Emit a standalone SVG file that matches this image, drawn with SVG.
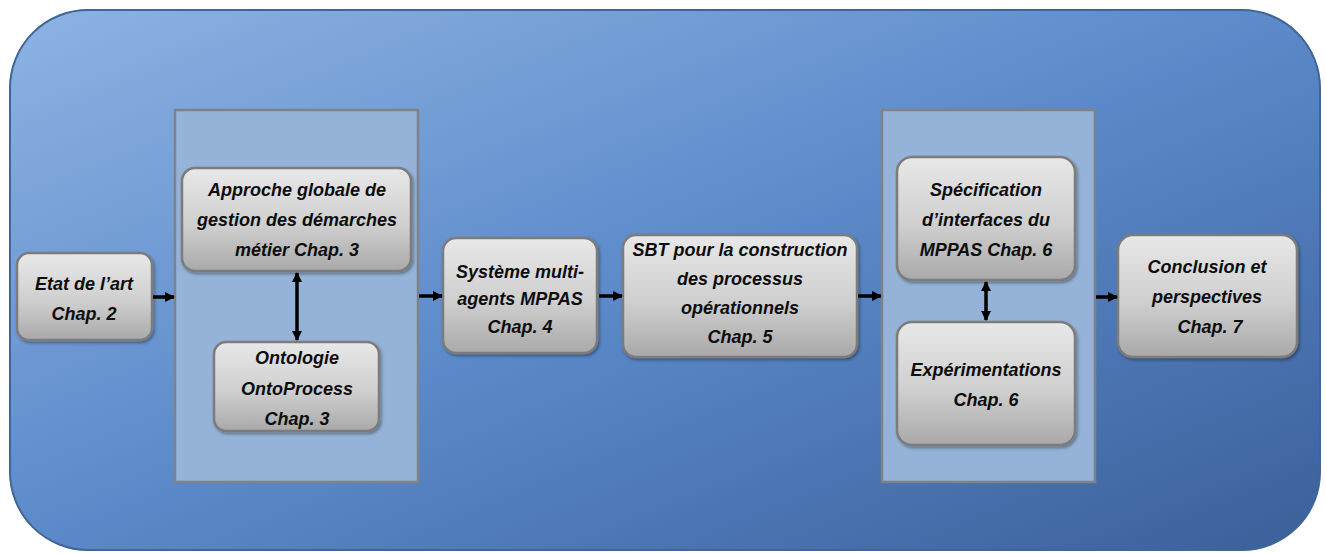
<svg xmlns="http://www.w3.org/2000/svg" width="1326" height="553" viewBox="0 0 1326 553">
<defs>
<linearGradient id="bg" x1="0" y1="0" x2="1" y2="1">
<stop offset="0" stop-color="#8db3e3"/>
<stop offset="0.5" stop-color="#5b89c9"/>
<stop offset="1" stop-color="#3a6099"/>
</linearGradient>
<linearGradient id="box" x1="0" y1="0" x2="0" y2="1">
<stop offset="0" stop-color="#e8e8e8"/>
<stop offset="0.55" stop-color="#cfcfcf"/>
<stop offset="1" stop-color="#a9a9a9"/>
</linearGradient>
<filter id="sh" x="-10%" y="-10%" width="125%" height="130%">
<feDropShadow dx="1.5" dy="2" stdDeviation="1.5" flood-color="#000" flood-opacity="0.35"/>
</filter>
<marker id="ah" viewBox="0 0 10 10" refX="9" refY="5" markerWidth="3" markerHeight="3" orient="auto-start-reverse" markerUnits="strokeWidth">
<path d="M0,0 L10,5 L0,10 z" fill="#000"/>
</marker>
<style>
.node rect.b{fill:url(#box);stroke:#7b7b7b;stroke-width:2.5;filter:url(#sh)}
.cont{fill:#95b3d8;stroke:#7f8287;stroke-width:2.5}
text{font-family:"Liberation Sans",Arial,sans-serif;font-size:18px;font-weight:bold;font-style:italic;fill:#0d0d0d;text-anchor:middle}
.conn line{stroke:#000;stroke-width:3.5}
</style>
</defs>
<rect x="10" y="10" width="1310" height="540" rx="78" ry="78" fill="url(#bg)" stroke="#3f6599" stroke-width="2"/>
<g id="container1"><rect class="cont" x="175" y="110" width="243" height="372"/></g>
<g id="container2"><rect class="cont" x="882" y="110" width="213" height="372"/></g>
<g id="n-etat" class="node">
<rect class="b" x="17" y="253" width="135" height="87" rx="12"/>
<text x="84" y="290">Etat de l’art</text>
<text x="84" y="320">Chap. 2</text>
</g>
<g id="n-approche" class="node">
<rect class="b" x="182" y="168" width="229" height="103" rx="13"/>
<text x="297" y="196">Approche globale de</text>
<text x="297" y="226">gestion des démarches</text>
<text x="297" y="256">métier Chap. 3</text>
</g>
<g id="n-onto" class="node">
<rect class="b" x="214" y="342" width="165" height="89" rx="12"/>
<text x="297" y="364">Ontologie</text>
<text x="297" y="395">OntoProcess</text>
<text x="297" y="425">Chap. 3</text>
</g>
<g id="n-sma" class="node">
<rect class="b" x="443" y="238" width="154" height="115" rx="13"/>
<text x="520" y="278">Système multi-</text>
<text x="520" y="305">agents MPPAS</text>
<text x="520" y="333">Chap. 4</text>
</g>
<g id="n-sbt" class="node">
<rect class="b" x="623" y="235" width="234" height="122" rx="13"/>
<text x="740" y="256">SBT pour la construction</text>
<text x="740" y="285">des processus</text>
<text x="740" y="314">opérationnels</text>
<text x="740" y="343">Chap. 5</text>
</g>
<g id="n-spec" class="node">
<rect class="b" x="897" y="157" width="178" height="123" rx="15"/>
<text x="986" y="196">Spécification</text>
<text x="986" y="226">d’interfaces du</text>
<text x="986" y="256">MPPAS Chap. 6</text>
</g>
<g id="n-exp" class="node">
<rect class="b" x="897" y="322" width="178" height="123" rx="15"/>
<text x="986" y="376">Expérimentations</text>
<text x="986" y="406">Chap. 6</text>
</g>
<g id="n-concl" class="node">
<rect class="b" x="1118" y="235" width="179" height="122" rx="15"/>
<text x="1207" y="273">Conclusion et</text>
<text x="1207" y="303">perspectives</text>
<text x="1210" y="333">Chap. 7</text>
</g>
<g id="connectors" class="conn">
<line x1="153" y1="297" x2="174" y2="297" marker-end="url(#ah)"/>
<line x1="419" y1="296" x2="442" y2="296" marker-end="url(#ah)"/>
<line x1="599" y1="296" x2="622" y2="296" marker-end="url(#ah)"/>
<line x1="858" y1="296" x2="881" y2="296" marker-end="url(#ah)"/>
<line x1="1096" y1="297" x2="1117" y2="297" marker-end="url(#ah)"/>
<line x1="297" y1="273" x2="297" y2="340" marker-start="url(#ah)" marker-end="url(#ah)"/>
<line x1="986" y1="282" x2="986" y2="320" marker-start="url(#ah)" marker-end="url(#ah)"/>
</g>
</svg>
